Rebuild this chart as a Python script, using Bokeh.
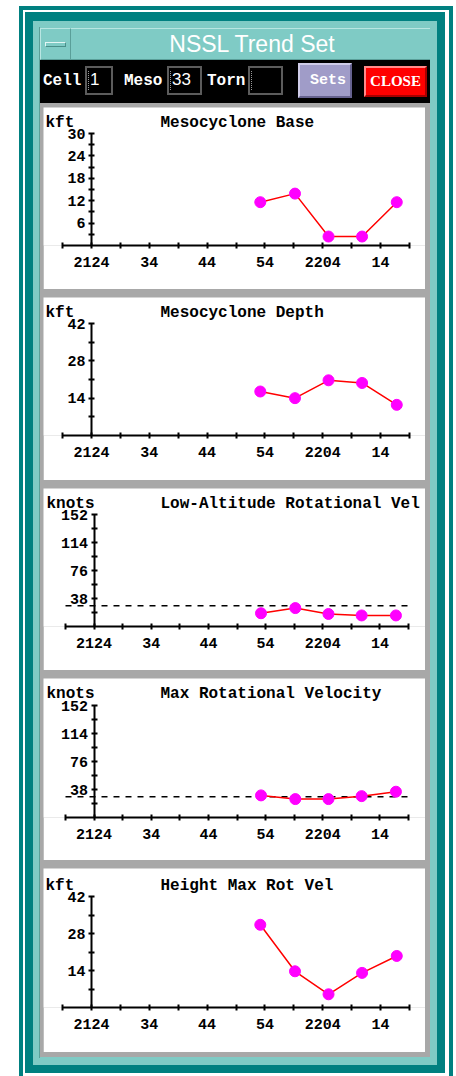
from bokeh.models import Column, Div, FixedTicker, Label
from bokeh.plotting import figure
from bokeh.embed import file_html
from bokeh.resources import INLINE

# ---------------- data ----------------
# volume-scan times, minutes after 21:00 UTC
scan_minutes = [53.2, 59.2, 65.0, 70.8, 76.8]
meso_base = [11.6, 13.9, 2.4, 2.4, 11.6]            # kft
meso_depth = [16.5, 14.0, 20.7, 19.7, 11.5]         # kft
low_alt_rot_vel = [18, 25, 17, 15, 15]              # knots
max_rot_vel = [30, 25, 25, 29, 35]                  # knots
height_max_rot_vel = [31.3, 13.7, 5.0, 13.1, 19.5]  # kft
vel_threshold = 28                                  # knots (dashed reference line)

time_major = [24, 34, 44, 54, 64, 74]
time_minor = [19, 29, 39, 49, 59, 69, 79]
time_labels = ["2124", "34", "44", "54", "2204", "14"]
time_start, time_end, y_axis_time = 19, 79, 24

kft30_major = [6, 12, 18, 24, 30]
kft30_minor = [3, 9, 15, 21, 27]
kft42_major = [14, 28, 42]
kft42_minor = [7, 21, 35]
kt152_major = [38, 76, 114, 152]
kt152_minor = [19, 57, 95, 133]

titles = ["Mesocyclone Base", "Mesocyclone Depth", "Low-Altitude Rotational Vel",
          "Max Rotational Velocity", "Height Max Rot Vel"]
units = ["kft", "kft", "knots", "knots", "kft"]

# ---------------- styling ----------------
TEAL = "#008080"
LTEAL = "#7fcbc5"
GRAY = "#a8a8a8"
MONO = "Liberation Mono"
W = 382

panels = [
    dict(values=meso_base, major=kft30_major, minor=kft30_minor, thr=False,
         h=182, top=26, axis=138, left=19, right=16, mt=4, base=15.5, ux=2),
    dict(values=meso_depth, major=kft42_major, minor=kft42_minor, thr=False,
         h=183, top=26, axis=138, left=19, right=16, mt=8, base=15.5, ux=2),
    dict(values=low_alt_rot_vel, major=kt152_major, minor=kt152_minor, thr=True,
         h=182, top=26, axis=138, left=22, right=17, mt=8, base=15.5, ux=3),
    dict(values=max_rot_vel, major=kt152_major, minor=kt152_minor, thr=True,
         h=182, top=27, axis=139, left=22, right=17, mt=8, base=15.5, ux=3),
    dict(values=height_max_rot_vel, major=kft42_major, minor=kft42_minor, thr=False,
         h=184, top=28, axis=139, left=19, right=16, mt=8, base=17, ux=2),
]

figs = []
for i, cfg in enumerate(panels):
    ymax = cfg["major"][-1]
    # frame fills the figure (except the x-axis strip); axis extents set with bounds
    span_px = W - cfg["left"] - cfg["right"]
    ppm = span_px / (time_end - time_start)
    x0 = time_start - cfg["left"] / ppm
    x1 = time_end + cfg["right"] / ppm
    ppu = (cfg["axis"] - cfg["top"]) / ymax
    y1 = ymax + cfg["top"] / ppu

    p = figure(width=W, height=cfg["h"], x_range=(x0, x1), y_range=(0, y1),
               output_backend="svg", toolbar_location=None,
               min_border_left=0, min_border_right=0, min_border_top=0,
               min_border_bottom=cfg["h"] - cfg["axis"],
               background_fill_color="white", border_fill_color="white",
               outline_line_color=None)
    p.grid.visible = False
    p.margin = (cfg["mt"], 456 - 43 - W, 0, 43)

    xa = p.xaxis[0]
    xa.bounds = (time_start, time_end)
    xa.ticker = FixedTicker(ticks=time_major, minor_ticks=time_minor)
    xa.major_label_overrides = dict(zip(time_major, time_labels))
    ya = p.yaxis[0]
    ya.fixed_location = y_axis_time
    ya.bounds = (0, ymax)
    ya.ticker = FixedTicker(ticks=cfg["major"], minor_ticks=cfg["minor"])
    for ax in (xa, ya):
        ax.axis_line_width = 2
        ax.axis_line_color = "black"
        ax.major_tick_line_width = 2
        ax.minor_tick_line_width = 2
        ax.major_tick_in = 3
        ax.major_tick_out = 3
        ax.minor_tick_in = 3
        ax.minor_tick_out = 3
        ax.major_label_text_font = MONO
        ax.major_label_text_font_style = "bold"
        ax.major_label_text_font_size = "15px"
        ax.major_label_text_color = "black"
    xa.major_label_standoff = 8
    ya.major_label_standoff = 3

    if cfg["thr"]:
        p.line([time_start, time_end], [vel_threshold, vel_threshold], line_color="black",
               line_width=1.5, line_dash="6 6")

    p.line(scan_minutes, cfg["values"], line_color="#ff0000", line_width=1.5)
    p.scatter(scan_minutes, cfg["values"], size=11, fill_color="#ff00ff",
              line_color="#ff00ff")

    for txt, xo in ((units[i], cfg["ux"]), (titles[i], 117)):
        p.add_layout(Label(x=x0, y=y1, x_offset=xo, y_offset=-cfg["base"], text=txt,
                           text_font=MONO, text_font_style="bold", text_font_size="16px",
                           text_baseline="alphabetic", text_align="left",
                           text_color="black"))
    figs.append(p)

# ---------------- window header (title bar + controls) ----------------
def box(left, top, w, h, extra=""):
    return (f"position:absolute;left:{left}px;top:{top}px;width:{w}px;height:{h}px;"
            f"box-sizing:border-box;{extra}")

lab = f"font-family:'{MONO}';font-weight:bold;font-size:16px;line-height:16px;color:white;"
val = "color:white;font-family:'Liberation Sans';font-size:17px;line-height:20px;"
fld = "border:2px solid #5c5c5c;background:#000;"
cur = "border-left:1px dotted #9a9a9a;"
header_html = f"""
<div style="position:relative;width:390px;height:75px;overflow:hidden;">
  <div style="{box(0,0,390,32,f'background:{LTEAL};border-top:1px solid #b9e6e2;border-bottom:1px solid #5a9f99;')}"></div>
  <div style="{box(0,0,31,32,'border:1px solid;border-color:#b9e6e2 #5a9f99 #5a9f99 #b9e6e2;')}"></div>
  <div style="{box(5,14,21,5,f'background:{LTEAL};border:1px solid;border-color:#e4f6f4 #4a8f89 #4a8f89 #e4f6f4;')}"></div>
  <div style="{box(32,0,360,32,"line-height:32px;text-align:center;color:white;font-family:'Liberation Sans';font-size:23px;")}">NSSL Trend Set</div>
  <div style="{box(0,32,390,43,'background:#000000;')}"></div>
  <div style="{box(3,45,40,16,lab)}">Cell</div>
  <div style="{box(45,38,28,29,fld)}"></div>
  <div style="{box(48,43,1,19,cur)}"></div>
  <div style="{box(50,42,20,20,val)}">1</div>
  <div style="{box(84,45,42,16,lab)}">Meso</div>
  <div style="{box(127,38,35,29,fld)}"></div>
  <div style="{box(130,43,1,19,cur)}"></div>
  <div style="{box(132,42,28,20,val)}">33</div>
  <div style="{box(167,45,42,16,lab)}">Torn</div>
  <div style="{box(208,38,35,29,fld)}"></div>
  <div style="{box(211,43,1,19,cur)}"></div>
  <div style="{box(258,35,54,35,"background:#a09cc8;border:2px solid;border-color:#cfcce8 #66628f #66628f #cfcce8;display:flex;align-items:center;justify-content:center;padding-left:6px;color:white;font-family:'Liberation Mono';font-weight:bold;font-size:15px;")}">Sets</div>
  <div style="{box(324,38,63,31,"background:#ff0000;border:2px solid;border-color:#ff8a8a #a80000 #a80000 #ff8a8a;display:flex;align-items:center;justify-content:center;color:white;font-family:'Liberation Serif';font-weight:bold;font-size:15px;")}">CLOSE</div>
</div>
"""
header = Div(text=header_html, width=390, height=75, margin=(28, 26, 0, 40))

# ---------------- outer window frame painted as background layers ----------------
def rect(color, x, y, w, h):
    return f"linear-gradient({color},{color}) {x}px {y}px / {w}px {h}px no-repeat"

frame_bg = ", ".join([
    rect(GRAY, 40, 103, 390, 954),       # grey work area behind the panels
    rect("#5a9f99", 39, 27, 1, 1031),    # inner bevel of window frame
    rect(LTEAL, 33, 21, 404, 1044),      # light-teal window border
    rect(TEAL, 25, 12, 420, 1061),       # inner teal block
    rect("#ffffff", 23, 10, 426, 1066),  # white gap
    rect(TEAL, 19, 6, 434, 1070),        # outer teal band
    "#ffffff",
])

root = Column(children=[header] + figs, width=456, height=1076, spacing=0,
              styles={"background": frame_bg})

open("out.html", "w").write(file_html(root, INLINE))
